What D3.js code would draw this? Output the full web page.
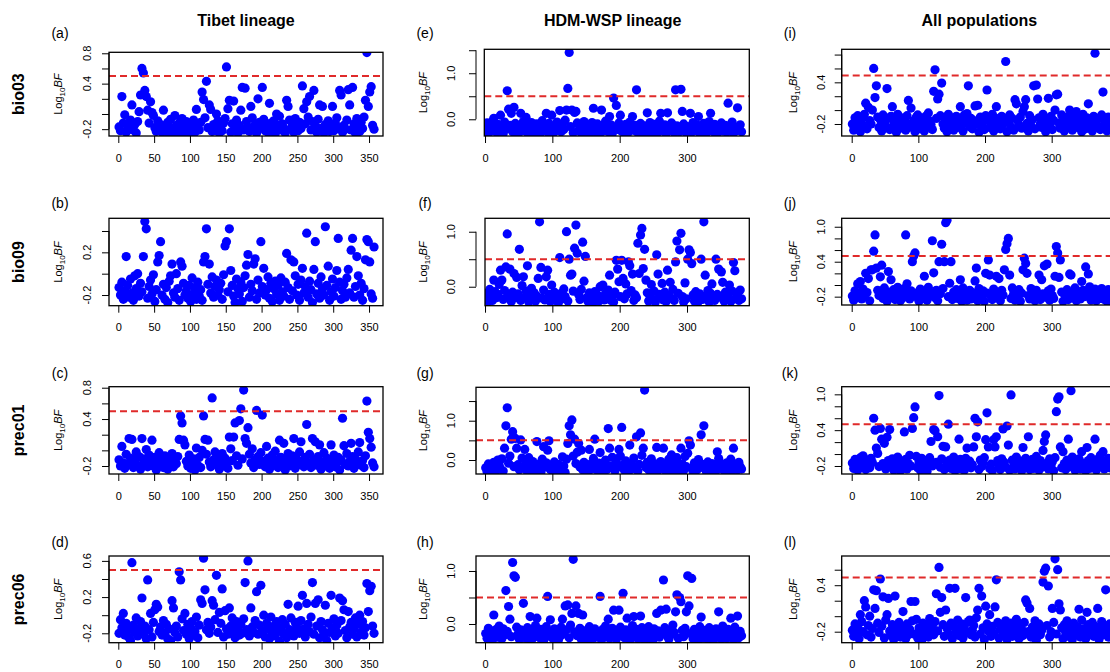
<!DOCTYPE html>
<html><head><meta charset="utf-8">
<script src="https://cdn.jsdelivr.net/npm/d3@7"></script>
<style>body{margin:0;background:#fff}svg{display:block;font-family:"Liberation Sans",Arial,Helvetica,sans-serif}</style>
</head><body><svg id="c" width="1110" height="672"></svg>
<script>
// ---------------- data ----------------
const colTitles = ["Tibet lineage","HDM-WSP lineage","All populations"];
const rowTitles = ["bio03","bio09","prec01","prec06"];
const panelLetters = ["(a)","(b)","(c)","(d)","(e)","(f)","(g)","(h)","(i)","(j)","(k)","(l)"];
const xTickVals = [[0,50,100,150,200,250,300,350],[0,100,200,300],[0,100,200,300]];
const yTickVals = [
 [-0.2,0,0.2,0.4,0.6,0.8],[-0.2,0,0.2,0.4],[-0.2,0,0.2,0.4,0.6,0.8],[-0.2,0,0.2,0.4,0.6],
 [0,0.5,1,1.5],[0,0.5,1],[0,0.5,1,1.5],[0,0.5,1],
 [-0.2,0,0.2,0.4,0.6,0.8],[-0.2,0,0.2,0.4,0.6,0.8,1],[-0.2,0,0.2,0.4,0.6,0.8,1],[-0.2,0,0.2,0.4,0.6]];
const yTickLabels = [[-0.2,0.4,0.8],[-0.2,0.2],[-0.2,0.4,0.8],[-0.2,0.2,0.6],[0,1],[0,1],[0,1],[0,1],[-0.2,0.4],[-0.2,0.4,1],[-0.2,0.4,1],[-0.2,0.4]];
const yDomains = [[-0.29,0.813],[-0.30,0.519],[-0.302,0.813],[-0.304,0.654],[-0.363,1.52],[-0.345,1.244],[-0.356,1.85],[-0.353,1.283],[-0.373,0.876],[-0.343,1.145],[-0.334,1.128],[-0.342,0.777]];
const xDomains = [[-13,369.5],[-13.4,392.5],[-15,398]];
const threshold = 0.5;
const thresholdShown = [1,0,1,1,1,1,1,1,1,1,1,1];
const firstIndex = 1, indexStep = 2;   // values are every 2nd SNP index, starting at 1

const tibet_bio03 = [-.17,-.22,.23,-.12,-.01,-.24,-.15,-.2,-.08,.12,-.21,-.14,-.25,-.1,.03,.25,.6,.54,.31,.23,.05,-.12,.16,.02,-.02,-.18,-.23,-.09,-.2,-.14,-.24,.05,-.16,-.21,-.11,-.26,-.07,-.19,-.23,-.02,-.15,-.25,-.12,-.2,-.06,-.24,-.17,-.1,-.22,-.26,-.13,-.19,-.08,-.24,.06,-.16,-.21,-.11,.29,.19,-.05,.43,-.18,.12,.06,-.23,-.14,-.2,0,-.09,-.25,-.16,-.22,-.12,-.06,.62,.07,.18,-.24,-.13,.17,-.19,-.08,-.25,-.15,.05,.35,-.21,.34,-.1,-.17,-.23,.1,-.05,-.2,-.14,-.25,.2,-.11,-.18,.35,-.07,-.22,-.16,-.24,.14,-.12,-.2,-.09,-.26,0,-.15,-.03,-.21,-.13,-.18,-.25,.18,.1,-.08,-.2,-.14,-.24,-.06,-.17,-.22,-.11,-.19,.37,.07,-.13,.16,-.04,.23,-.21,-.1,.31,-.16,-.24,-.07,.12,-.19,.1,-.25,-.14,-.2,-.09,-.23,-.16,.1,-.22,-.12,-.05,-.18,.31,.25,-.24,-.15,-.2,-.08,.32,.12,-.21,.35,-.13,-.25,-.06,-.17,-.23,-.11,-.19,-.04,.18,.81,.1,.29,.36,-.15,-.2];
const tibet_bio09 = [-.13,-.2,-.08,-.24,-.16,.16,-.11,-.22,-.05,-.18,-.25,-.02,-.14,0,-.21,-.09,-.17,.16,.49,.42,-.23,-.12,-.06,-.19,-.01,-.26,-.15,.11,.17,.3,-.2,-.1,-.24,-.13,-.27,-.07,-.02,.09,-.18,-.22,0,-.14,-.25,.11,.07,-.09,-.2,-.16,-.23,-.11,-.26,-.04,-.19,-.13,-.24,-.08,-.21,-.15,-.25,.11,.16,.42,-.1,.09,-.18,-.03,-.22,-.12,-.06,-.2,-.15,-.09,-.24,-.01,.26,.3,-.17,.42,.03,-.11,-.21,-.27,-.05,-.14,-.19,-.08,-.26,-.13,-.02,.08,.18,-.22,-.1,-.16,.09,.14,-.24,-.06,-.18,.3,-.12,.05,-.2,-.15,-.03,-.23,-.09,-.26,-.14,-.07,-.19,-.11,-.25,-.04,-.17,-.21,-.08,.19,-.13,-.24,.13,-.16,.11,-.02,-.2,-.1,-.25,-.06,.05,-.18,-.12,.38,-.22,-.07,-.15,-.27,.04,.3,-.19,-.09,-.23,-.03,-.14,-.2,.44,-.11,.07,-.25,-.17,-.05,-.21,-.13,.03,.33,-.08,-.24,-.16,-.1,-.22,-.04,.04,-.18,.22,.33,-.22,-.12,.16,-.02,-.2,-.09,-.25,-.14,.13,.32,.3,.11,-.19,-.23,.25];
const tibet_prec01 = [-.12,-.2,.05,-.16,-.23,-.05,-.18,.15,-.1,.14,-.22,-.13,-.02,-.19,-.08,-.24,.15,-.11,-.17,.01,-.21,-.06,-.14,.13,-.2,-.09,-.25,-.15,-.03,-.18,-.12,-.22,-.07,-.16,-.24,-.1,-.19,-.04,-.21,-.13,-.17,-.08,.14,.44,.35,.13,.07,-.14,-.2,-.06,-.23,-.16,-.11,-.25,.03,-.19,-.09,-.22,0,.44,.14,-.05,.13,-.15,-.21,.67,-.12,-.02,-.18,-.08,-.24,-.14,-.04,-.2,-.1,-.17,-.23,.17,.02,-.13,.17,.35,-.07,-.19,.38,.53,-.11,.77,.15,.09,.29,-.05,-.16,.02,-.22,-.12,.51,-.08,-.18,-.03,.45,-.14,-.21,.05,-.1,-.24,-.16,-.06,-.19,-.01,-.13,-.22,.13,-.09,-.17,.09,-.25,-.12,-.04,-.2,-.15,-.07,.15,-.23,-.11,-.18,-.02,.11,-.14,-.21,-.09,.33,-.16,-.05,-.22,.15,-.12,.11,-.19,-.08,.07,-.24,-.15,-.03,-.2,-.1,-.17,-.23,.07,-.13,-.06,-.21,-.16,-.09,-.25,-.12,.41,.06,-.18,-.04,-.2,-.14,.09,-.08,-.23,-.11,-.17,-.02,.1,-.19,-.13,-.22,-.07,.63,.23,.15,.04,-.16,-.21];
const tibet_prec06 = [-.2,-.05,-.14,.02,-.22,-.09,-.17,-.25,-.28,.58,-.11,-.19,-.03,-.23,-.15,-.07,.19,-.21,-.12,-.26,.39,-.16,.02,-.24,-.08,.06,.12,.09,-.18,-.13,-.22,-.06,-.2,-.1,-.26,-.15,-.28,.16,.08,-.19,-.12,-.24,.48,.39,-.04,-.17,.02,-.21,-.1,-.26,-.14,-.07,-.22,-.18,-.02,-.25,-.11,.17,.13,.63,.28,-.16,-.08,-.2,-.13,.16,.11,-.05,.44,-.19,.03,-.09,.29,-.24,.05,-.15,-.21,.08,-.12,-.03,-.18,-.25,-.07,-.14,-.22,-.1,-.2,-.04,.36,-.16,.6,-.23,.08,-.13,-.19,-.06,.26,-.21,-.11,.33,-.17,0,-.24,-.09,-.15,-.26,-.02,-.2,-.12,-.23,-.07,-.18,-.29,-.14,-.05,-.21,-.1,-.25,.12,-.16,-.03,-.19,-.23,-.08,-.13,.1,-.2,-.06,.22,-.15,-.24,.13,-.1,-.18,-.02,.36,-.21,.13,-.12,.17,-.25,-.07,-.16,-.22,.11,-.28,-.09,-.19,.22,-.14,-.04,-.23,-.11,-.2,.19,-.06,.16,.06,-.17,-.25,.04,-.13,-.08,-.21,-.15,-.03,-.24,-.1,0,-.19,-.07,-.22,-.14,.35,.04,.27,.32,-.12,-.2];

const hdm_bio03 = [-.22,-.08,-.3,-.15,-.26,-.04,.02,-.19,-.28,-.11,-.24,.09,-.17,-.31,-.06,-.21,.62,.22,-.13,.13,-.27,.26,-.09,-.2,-.32,-.14,.13,-.25,-.05,-.18,.04,-.29,-.12,-.23,-.07,-.3,-.16,-.26,-.1,-.21,-.33,-.14,-.03,-.24,-.18,.13,-.28,-.09,-.2,.09,-.31,-.15,-.25,-.06,-.19,.19,-.27,-.12,-.22,-.02,.2,.67,1.45,-.16,.2,-.29,.15,.17,-.08,-.24,-.13,-.3,-.19,-.05,-.26,-.11,-.21,-.32,-.15,-.07,.24,-.23,-.28,-.1,-.18,-.3,.2,-.14,-.25,-.04,-.2,-.27,.06,-.12,-.31,.46,-.17,.3,-.22,-.08,.09,-.26,-.15,-.3,-.11,-.2,-.28,-.06,-.17,.06,-.24,-.13,.64,-.29,-.19,-.09,-.25,-.32,-.14,-.21,.14,-.27,-.07,-.18,-.3,-.11,-.23,-.16,-.28,-.04,.13,-.2,-.26,-.12,-.31,.14,-.17,-.24,-.08,-.22,-.29,.64,-.14,-.19,-.27,.65,.17,-.1,-.25,-.3,-.16,-.21,.13,-.28,-.07,-.18,-.24,-.12,.06,-.31,-.2,-.26,-.09,-.15,-.29,-.22,-.05,.13,-.17,-.27,-.11,-.24,-.3,-.14,-.19,-.08,-.26,-.21,-.13,-.28,.35,-.16,-.23,-.06,-.3,-.18,-.25,.25,-.2,-.12,-.27];
const hdm_bio09 = [-.22,-.12,-.27,-.05,-.18,-.25,.12,-.09,-.2,-.14,.04,.3,.12,-.23,-.07,.36,.96,-.16,.32,-.27,-.1,.24,-.2,.17,-.13,.68,-.25,.02,.18,-.19,-.08,.38,-.28,-.15,-.03,-.22,-.11,-.26,-.17,.15,1.18,.35,-.21,-.06,-.24,.18,.3,-.14,-.27,.03,-.19,-.1,-.25,-.16,-.29,.53,-.12,-.22,-.04,-.18,1,-.26,.5,.21,.23,-.08,.7,1.12,.61,-.14,-.23,-.05,.81,.1,.55,-.2,-.27,-.11,-.24,-.17,-.28,-.09,-.21,-.15,-.26,0,-.19,.03,-.24,-.12,-.2,-.06,.21,-.25,-.16,-.28,-.1,.48,.32,.09,-.18,.48,.15,-.22,.05,-.13,.45,.38,-.07,.23,-.25,-.15,-.2,.79,.24,.94,1.06,.33,.68,.12,-.11,-.26,-.17,.04,-.23,-.08,-.28,.58,.23,-.14,-.2,.06,-.24,-.1,-.27,.3,-.16,.08,-.21,-.05,-.25,.45,.83,-.12,.67,.97,-.18,-.28,.07,-.22,.5,.67,.62,.42,-.15,-.26,-.09,-.2,-.27,-.13,.5,-.23,1.18,.21,-.17,-.07,-.28,-.12,.05,-.21,-.25,.5,-.14,.32,-.19,.27,.08,-.26,-.1,-.22,-.16,.03,-.27,-.08,.44,.29,-.2,-.13,-.25,-.06,-.22];
const hdm_prec01 = [-.2,-.29,-.1,-.24,-.15,-.31,-.06,-.19,-.26,0,-.13,-.22,.03,-.28,.3,.87,1.33,-.08,.1,.53,.72,-.17,.55,.3,-.12,-.25,.51,.05,-.2,.27,-.09,-.3,.06,-.16,-.23,-.04,-.27,-.14,.47,-.21,-.1,-.31,.02,.34,-.18,-.07,.25,.49,-.24,-.13,-.28,-.05,-.19,-.3,-.11,-.22,-.26,.08,-.15,-.32,.02,.42,.87,.64,1.02,.1,.53,-.09,.2,.42,-.18,.25,-.25,-.06,-.21,-.14,-.29,.27,-.1,-.23,.04,.53,-.17,-.27,-.08,.19,-.2,-.3,-.12,0,-.24,.8,.3,-.15,.07,-.22,-.28,-.05,-.18,.27,.1,.83,-.13,-.26,-.02,-.2,-.31,.38,-.09,-.16,.05,-.23,.59,-.28,-.11,.69,.12,.3,1.78,-.19,-.06,-.25,-.14,.03,-.3,-.2,-.1,.32,-.27,-.16,-.04,-.22,.3,-.12,-.29,-.18,.02,-.25,.13,-.08,-.2,-.31,.06,-.14,-.24,.3,-.1,-.27,.09,-.17,.17,.49,.38,-.21,-.29,-.07,-.15,-.25,.01,-.19,.64,-.11,.87,-.23,-.3,-.05,-.17,-.26,-.09,-.21,-.13,-.28,.21,.04,-.2,-.1,-.24,-.16,-.3,-.07,-.22,-.14,.02,-.27,.3,-.11,-.19,-.25,-.06,-.17,-.23];
const hdm_prec06 = [-.18,-.27,-.08,-.22,-.13,-.3,.17,-.2,-.1,-.25,-.04,-.16,-.28,-.09,-.21,.63,-.14,.33,.09,-.24,1.16,.91,.88,-.06,-.19,-.29,-.11,-.23,.39,-.15,-.27,-.07,-.2,.14,-.31,-.12,-.24,-.03,.11,-.18,-.26,-.1,-.21,-.32,-.14,-.05,.52,-.23,.08,-.17,-.28,-.09,-.2,-.13,-.3,-.24,-.06,.09,-.19,.34,-.11,.36,-.26,-.02,.2,1.22,-.15,.34,-.22,.2,-.08,-.29,.17,-.18,-.25,-.12,-.31,-.05,-.21,-.14,-.27,-.09,-.2,-.24,-.16,.52,-.3,-.1,-.22,-.04,-.19,.09,-.27,-.13,-.08,.26,-.23,-.29,-.15,.26,-.06,-.2,.58,-.26,-.11,.11,-.18,-.31,-.14,-.03,.14,-.24,-.1,-.28,-.17,.15,-.07,-.22,-.3,-.12,-.19,-.05,-.26,-.15,-.32,-.09,-.21,.2,-.13,-.25,.26,-.18,.83,-.07,.28,-.23,-.29,-.11,-.2,-.02,-.16,.23,.55,-.27,.5,.42,-.12,-.24,-.08,.23,.91,.34,-.18,.86,-.28,-.1,-.21,-.15,-.3,-.05,.13,-.22,-.26,-.12,-.19,-.29,-.07,-.24,-.14,-.31,-.2,-.09,-.25,.23,-.17,-.28,-.04,-.21,-.13,-.27,-.1,-.23,.11,-.18,-.29,-.06,-.2,.15,-.26,-.14,-.22];

const all_bio03 = [-.2,-.29,-.11,-.24,-.08,-.17,-.31,-.13,-.22,-.06,.1,-.27,.04,-.15,-.2,0,.6,.18,.35,-.1,-.25,-.14,-.3,-.07,-.18,-.23,.31,-.12,-.28,-.09,.05,-.21,-.16,-.32,-.06,-.19,-.26,-.11,-.23,-.14,-.29,-.08,.14,-.2,.03,-.25,-.15,-.31,-.1,-.07,-.22,-.27,-.13,-.18,-.3,-.09,-.24,-.04,-.16,-.21,-.28,.27,.58,-.12,.16,.23,-.08,.39,-.2,-.26,-.14,-.31,-.06,-.19,-.23,-.11,-.29,-.16,-.09,-.25,-.13,.05,-.21,-.3,-.07,-.18,-.05,.35,-.24,-.12,-.27,-.15,.06,-.2,.07,-.32,-.1,-.22,-.17,-.28,-.08,.29,-.14,-.25,-.19,-.06,-.3,-.11,.05,-.23,-.16,-.27,-.09,-.2,-.13,.7,-.31,-.18,-.07,-.24,-.12,-.29,.15,.09,-.15,-.21,-.1,-.26,-.02,.05,.15,-.19,-.3,-.08,-.23,-.14,.35,-.27,.36,.16,-.11,-.2,-.25,-.06,-.17,-.31,-.13,.17,-.22,-.09,-.28,-.15,0,.22,.23,-.19,-.26,-.07,-.12,-.3,-.21,-.1,-.16,0,-.24,-.29,-.08,-.18,-.02,-.25,-.13,-.2,-.31,-.06,-.17,-.27,-.11,.09,-.23,-.14,-.3,-.09,.82,-.19,-.25,-.12,-.28,-.07,.26,-.21,-.16,-.3,-.1,-.24,-.18];
const all_bio09 = [-.19,-.26,-.1,-.22,.02,-.15,.06,-.24,-.07,-.2,.2,-.13,.11,-.27,.26,.26,.58,.86,.29,-.09,-.18,.14,.34,-.23,-.05,-.16,-.28,.23,-.12,.09,-.21,-.08,-.25,-.14,-.04,-.19,-.27,-.11,-.22,-.06,.86,.02,-.17,-.24,-.1,.4,.5,.55,-.2,-.13,-.28,-.07,-.16,-.23,.15,-.11,-.26,-.04,-.19,-.14,.76,.21,-.22,-.09,-.27,.4,-.15,.7,-.06,.4,1.07,1.11,-.2,.03,.4,-.25,-.12,-.18,-.08,-.23,-.15,.09,-.28,-.05,-.21,-.11,-.26,-.17,-.09,-.24,-.13,-.2,.07,.29,-.27,-.06,-.16,-.22,-.1,-.28,.2,-.14,.43,.17,-.19,-.25,-.07,-.12,.15,-.21,.11,-.27,-.09,-.17,.26,.61,.71,.8,.17,-.23,-.05,-.15,-.26,-.11,-.2,-.08,-.28,-.14,.26,.46,.37,.2,-.18,-.24,-.06,-.22,-.13,-.27,-.09,-.19,.17,-.25,.09,-.15,.33,-.21,.36,-.1,-.26,-.07,-.18,-.23,.15,.66,.55,.13,.43,-.12,-.28,-.16,-.2,-.08,-.25,.19,.17,-.14,-.22,-.05,-.27,-.11,-.18,-.24,.06,-.09,-.2,.31,-.15,.19,-.03,-.26,-.12,-.21,-.07,-.27,-.16,-.1,-.23,-.06,-.19,-.25,-.13,-.28,-.08,-.2,-.15];
const all_prec01 = [-.15,-.24,-.09,-.2,-.27,-.12,-.06,-.22,-.03,-.17,-.26,-.1,-.19,-.23,-.07,-.14,.6,.4,.1,.01,-.21,.43,.25,-.16,.18,-.25,.28,-.11,.41,-.2,-.08,-.27,-.14,-.22,-.05,-.18,-.28,-.12,-.21,.37,-.09,-.25,-.16,-.02,-.2,.43,.61,.79,-.04,-.23,-.13,-.27,-.07,-.18,-.24,-.11,-.29,-.16,-.06,.21,-.2,.41,.39,-.14,.29,.98,-.22,-.08,.13,-.26,.12,-.17,.5,-.1,-.24,-.19,-.05,-.28,-.13,-.21,.25,-.09,-.25,-.16,-.27,-.07,.1,-.2,-.12,-.23,-.18,.12,.6,.29,.54,-.26,-.1,-.21,-.15,-.06,.24,.69,.12,-.24,-.17,-.28,.24,.12,.29,-.11,-.2,-.26,-.08,.42,-.14,-.22,.47,.15,-.27,.99,-.1,-.19,-.25,-.05,-.16,-.23,-.12,-.28,.11,-.18,-.07,-.21,.29,-.26,-.13,-.09,-.24,-.17,-.04,-.2,-.27,-.11,-.22,.06,.21,.32,-.15,-.25,-.08,-.19,-.13,-.28,-.06,.71,.92,.96,.12,-.23,.04,-.16,-.26,-.1,.25,-.21,1.06,-.05,-.18,-.27,-.12,-.22,-.08,-.25,.04,-.15,-.2,-.28,.11,-.11,-.24,-.06,-.19,-.14,.25,-.27,-.09,-.21,-.02,-.16,.04,-.25,-.12,-.2,-.07,-.23,-.17];
const all_prec06 = [-.18,-.26,-.1,-.22,-.14,-.29,.02,-.07,-.2,.2,.12,-.24,-.12,0,-.27,-.16,.34,.1,.33,-.09,-.21,.48,-.13,.25,-.28,-.05,.02,.23,-.19,-.25,-.11,-.3,.26,-.16,-.22,-.08,-.27,-.14,.06,-.2,-.29,-.1,-.24,-.17,.19,-.06,-.23,.19,-.04,-.28,-.15,-.21,-.31,-.09,-.18,-.25,-.12,-.27,-.03,-.2,-.14,-.24,-.07,.29,-.19,.63,.05,.24,-.11,-.26,.08,-.16,-.22,.36,-.09,-.29,-.13,.36,-.2,-.05,-.25,-.17,-.1,-.28,-.14,.24,-.21,-.07,-.05,-.24,-.18,-.12,-.27,-.02,.08,.36,-.23,.26,-.15,-.3,.13,-.1,-.19,.02,-.26,-.13,-.22,.12,.47,-.08,-.28,-.17,-.11,-.24,-.2,-.06,-.3,-.15,-.21,-.09,-.26,-.13,-.19,-.04,-.23,-.29,-.11,-.17,-.25,-.08,.21,.17,-.2,.1,-.27,-.14,-.22,-.06,-.31,-.16,-.1,-.24,-.18,.44,.58,.62,-.12,.39,-.27,-.2,.1,-.08,.74,-.23,.6,.16,.08,-.15,-.29,-.11,-.21,-.06,-.26,-.17,-.12,-.3,-.09,-.24,-.19,-.14,.09,-.27,-.05,-.2,-.16,-.29,.05,-.11,-.23,-.18,-.08,-.26,-.13,-.21,.1,-.3,-.15,-.07,-.24,-.12,.34,-.19,-.27,-.1,-.22];

const panelData = [tibet_bio03,tibet_bio09,tibet_prec01,tibet_prec06,hdm_bio03,hdm_bio09,hdm_prec01,hdm_prec06,all_bio03,all_bio09,all_prec01,all_prec06];

// ---------------- layout (pixels) ----------------
const colLeft = [109,476,841.7], colRight = [383,749.3,1117];
const axisX = [109,476,841.7];
const panelBoxLeft = [109,109,109,109,484.3,485,476,476,841.7,841.7,841.7,841.7];
const panelTop = [52.3,218.3,386.7,556,49.3,218.3,387.3,556,49.3,218.3,386.7,556];
const panelBottom = [136,305.7,474,642.7,136,305.7,474,642.7,136,305,474,642.7];
const yLabOffset = [21.7,25,21], logOffset = [51,53,49];
const FONT = '"Liberation Sans",Arial,Helvetica,sans-serif';
const dotR = 4.6;

const svg = d3.select("#c");
const defs = svg.append("defs");
const fmt = v => (v < 0 ? "-" : "") + Math.abs(v).toFixed(1);

colTitles.forEach((t,c) => {
  svg.append("text").attr("x",(colLeft[c]+colRight[c])/2).attr("y",26)
    .attr("text-anchor","middle").attr("font-weight","bold").attr("font-size",16).text(t);
});
rowTitles.forEach((t,r) => {
  const cy = (panelTop[r]+panelBottom[r])/2;
  svg.append("text").attr("transform",`translate(18.3,${cy}) rotate(-90)`).attr("dy","0.36em")
    .attr("text-anchor","middle").attr("font-weight","bold").attr("font-size",16).text(t);
});

const letterX = [60,425,790], letterY = [38,208,378,546.5];

panelData.forEach((vals,p) => {
  const c = Math.floor(p/4), r = p % 4;
  const bl = panelBoxLeft[p], br = colRight[c], bt = panelTop[p], bb = panelBottom[p];
  const x = d3.scaleLinear().domain(xDomains[c]).range([colLeft[c], colRight[c]]);
  const y = d3.scaleLinear().domain(yDomains[p]).range([bb, bt]);
  const g = svg.append("g");

  defs.append("clipPath").attr("id","clip"+p).append("rect")
    .attr("x",bl).attr("y",bt).attr("width",br-bl).attr("height",bb-bt);

  g.append("g").attr("clip-path",`url(#clip${p})`).selectAll("circle").data(vals).join("circle")
    .attr("cx",(d,i) => x(firstIndex + indexStep*i)).attr("cy",d => y(d))
    .attr("r",dotR).attr("fill","#0000ff");

  if (thresholdShown[p]) {
    g.append("line").attr("x1",bl).attr("x2",br).attr("y1",y(threshold)).attr("y2",y(threshold))
      .attr("stroke","#e02a2a").attr("stroke-width",2).attr("stroke-dasharray","7,4");
  }
  g.append("rect").attr("x",bl).attr("y",bt).attr("width",br-bl).attr("height",bb-bt)
    .attr("fill","none").attr("stroke","#000").attr("stroke-width",1.3);

  // x axis
  const xa = g.append("g").attr("transform",`translate(0,${bb})`)
    .call(d3.axisBottom(x).tickValues(xTickVals[c]).tickSize(7).tickPadding(11).tickFormat(d3.format("d")));
  xa.select(".domain").remove();
  xa.selectAll("line").attr("stroke","#000");
  xa.selectAll("text").attr("font-size",11).attr("font-family",FONT).attr("fill","#000");

  // y axis
  const ax = axisX[c];
  const ya = g.append("g").attr("transform",`translate(${ax},0)`)
    .call(d3.axisLeft(y).tickValues(yTickVals[p]).tickSize(7).tickFormat(""));
  ya.select(".domain").remove();
  ya.selectAll("line").attr("stroke","#000");
  const yt = yTickVals[p];
  g.append("line").attr("x1",ax).attr("x2",ax).attr("y1",y(yt[0])).attr("y2",y(yt[yt.length-1])).attr("stroke","#000");
  g.selectAll("text.ylab").data(yTickLabels[p]).join("text").attr("class","ylab")
    .attr("transform",d => `translate(${ax - yLabOffset[c]},${y(d)}) rotate(-90)`)
    .attr("dy","0.36em").attr("text-anchor","middle").attr("font-size",11).text(fmt);

  // y title
  const lt = g.append("text")
    .attr("transform",`translate(${ax - logOffset[c]},${(bt+bb)/2}) rotate(-90)`)
    .attr("dy","0.36em").attr("text-anchor","middle").attr("font-size",11);
  lt.append("tspan").text("Log");
  lt.append("tspan").attr("font-size",8).attr("dy",3).text("10");
  lt.append("tspan").attr("font-style","italic").attr("dy",-3).text("BF");

  svg.append("text").attr("x",letterX[c]).attr("y",letterY[r]).attr("text-anchor","middle")
    .attr("font-size",14).text(panelLetters[p]);
});
</script></body></html>
